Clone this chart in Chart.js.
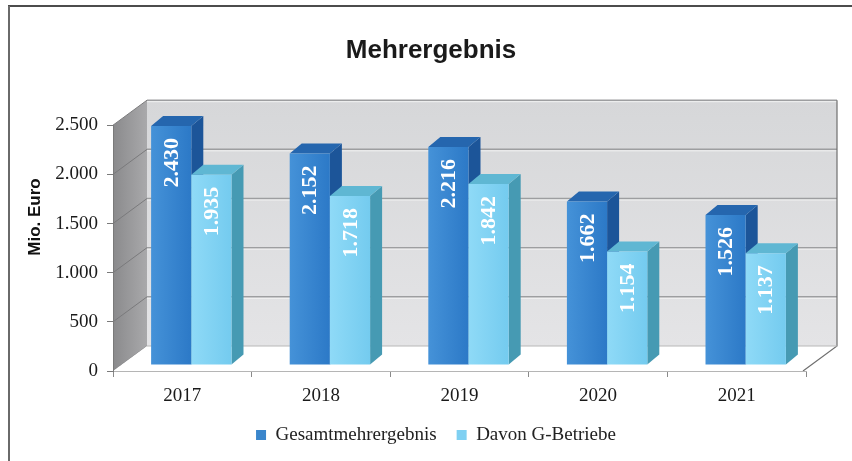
<!DOCTYPE html>
<html>
<head>
<meta charset="utf-8">
<script src="https://cdn.jsdelivr.net/npm/chart.js@4.4.1/dist/chart.umd.min.js"></script>
<style>
  html, body { margin: 0; padding: 0; background: #fff; }
  #wrap { width: 852px; height: 461px; }
</style>
</head>
<body>
<div id="wrap"><canvas id="grafik" width="852" height="461"></canvas></div>
<script>
// Daten
const jahre = ['2017', '2018', '2019', '2020', '2021'];
const gesamt = [2430, 2152, 2216, 1662, 1526];
const gBetriebe = [1935, 1718, 1842, 1154, 1137];
const serienNamen = ['Gesamtmehrergebnis', 'Davon G-Betriebe'];
const yTicks = [0, 500, 1000, 1500, 2000, 2500];

// Tausenderpunkt wie im Original
const fmt = n => String(n).replace(/\B(?=(\d{3})+(?!\d))/g, '.');

const TIEFE = { x: 34, y: -25 };            // Rückwand
const SAEULE = { x: 9, y: -6, dx: 12, dy: -10 }; // Versatz + Tiefe der Säulen

const farben = [
  { links: '#4592d8', rechts: '#2c79c7', deckel: '#2566ae', seite: '#1c5599', legende: '#3a86cc' },
  { links: '#8fdaf7', rechts: '#74cbef', deckel: '#5fb7d3', seite: '#469ab3', legende: '#7fd0f2' }
];

function poly(ctx, pts, fill, stroke, lw) {
  ctx.beginPath();
  ctx.moveTo(pts[0][0], pts[0][1]);
  for (let i = 1; i < pts.length; i++) ctx.lineTo(pts[i][0], pts[i][1]);
  ctx.closePath();
  if (fill) { ctx.fillStyle = fill; ctx.fill(); }
  if (stroke) { ctx.strokeStyle = stroke; ctx.lineWidth = lw || 1; ctx.stroke(); }
}

const raum3d = {
  id: 'raum3d',
  beforeDraw(chart) {
    const ctx = chart.ctx;
    const { left, right, top, bottom } = chart.chartArea;
    const r = right - 3;
    const dx = TIEFE.x, dy = TIEFE.y;
    ctx.save();

    // Rahmen
    ctx.strokeStyle = '#111';
    ctx.lineWidth = 1.5;
    ctx.beginPath(); ctx.moveTo(8, 6); ctx.lineTo(852, 6); ctx.stroke();
    ctx.strokeStyle = '#6a6a6a';
    ctx.lineWidth = 2;
    ctx.beginPath(); ctx.moveTo(9, 6); ctx.lineTo(9, 461); ctx.stroke();

    // Rückwand
    const gw = ctx.createLinearGradient(0, top + dy, 0, bottom + dy);
    gw.addColorStop(0, '#d6d7d9');
    gw.addColorStop(1, '#e4e4e6');
    poly(ctx, [[left + dx, top + dy], [r + dx, top + dy], [r + dx, bottom + dy], [left + dx, bottom + dy]], gw);

    // Seitenwand
    const gs = ctx.createLinearGradient(left, 0, left + dx, 0);
    gs.addColorStop(0, '#8a8a8c');
    gs.addColorStop(1, '#a9a9ab');
    poly(ctx, [[left, top], [left + dx, top + dy], [left + dx, bottom + dy], [left, bottom]], gs);

    // Gitterlinien
    const ys = chart.scales.y;
    yTicks.forEach(v => {
      const py = ys.getPixelForValue(v);
      if (v > 0) {
        ctx.strokeStyle = '#9d9ea0';
        ctx.lineWidth = 1.5;
        ctx.beginPath(); ctx.moveTo(left + dx, py + dy); ctx.lineTo(r + dx, py + dy); ctx.stroke();
        ctx.strokeStyle = '#f2f2f2';
        ctx.lineWidth = 1;
        ctx.beginPath(); ctx.moveTo(left + dx, py + dy + 1.5); ctx.lineTo(r + dx, py + dy + 1.5); ctx.stroke();
      }
      ctx.strokeStyle = '#7a7a7c';
      ctx.lineWidth = 1;
      ctx.beginPath(); ctx.moveTo(left, py); ctx.lineTo(left + dx, py + dy); ctx.stroke();
    });

    // Boden
    poly(ctx, [[left, bottom], [r, bottom], [r + dx, bottom + dy], [left + dx, bottom + dy]], '#ffffff');
    ctx.strokeStyle = '#6f6f6f';
    ctx.lineWidth = 1.2;
    ctx.beginPath(); ctx.moveTo(r, bottom); ctx.lineTo(r + dx, bottom + dy); ctx.lineTo(r + dx, top + dy); ctx.stroke();
    ctx.strokeStyle = '#b8b8b8';
    ctx.beginPath(); ctx.moveTo(left + dx, bottom + dy); ctx.lineTo(r + dx, bottom + dy); ctx.stroke();
    ctx.restore();
  },
  beforeDatasetsDraw(chart) {
    const ctx = chart.ctx;
    const n = jahre.length;
    ctx.save();
    for (let i = 0; i < n; i++) {
      chart.data.datasets.forEach((ds, d) => {
        const el = chart.getDatasetMeta(d).data[i];
        const p = el.getProps(['x', 'y', 'base', 'width'], true);
        const f = farben[d];
        const L = p.x - p.width / 2 + SAEULE.x;
        const R = p.x + p.width / 2 + SAEULE.x;
        const T = p.y + SAEULE.y;
        const U = p.base + SAEULE.y;
        const ex = SAEULE.dx, ey = SAEULE.dy;
        poly(ctx, [[R, T], [R + ex, T + ey], [R + ex, U + ey], [R, U]], f.seite);
        poly(ctx, [[L, T], [R, T], [R + ex, T + ey], [L + ex, T + ey]], f.deckel);
        const g = ctx.createLinearGradient(L, 0, R, 0);
        g.addColorStop(0, f.links);
        g.addColorStop(1, f.rechts);
        poly(ctx, [[L, T], [R, T], [R, U], [L, U]], g);

        // Wert in der Säule
        ctx.save();
        ctx.translate((L + R) / 2, T + 12);
        ctx.rotate(-Math.PI / 2);
        ctx.fillStyle = '#ffffff';
        ctx.font = 'bold 22px "Liberation Serif", "Times New Roman", serif';
        ctx.textAlign = 'right';
        ctx.textBaseline = 'middle';
        ctx.fillText(fmt(ds.data[i]), 0, 1);
        ctx.restore();
      });
    }
    ctx.restore();
    return false;
  },
  afterLayout(chart) {
    const lg = chart.legend;
    lg.left += 27; lg.right += 27;
    lg.top -= 6.5; lg.bottom -= 6.5;
    const tb = chart.titleBlock;
    tb.left += 22; tb.right += 22;
  },
  afterDraw(chart) {
    const ctx = chart.ctx;
    ctx.save();
    ctx.translate(35, 217);
    ctx.rotate(-Math.PI / 2);
    ctx.fillStyle = '#111';
    ctx.font = 'bold 17px "Liberation Sans", Arial, sans-serif';
    ctx.textAlign = 'center';
    ctx.textBaseline = 'middle';
    ctx.fillText('Mio. Euro', 0, 0);
    ctx.restore();
  }
};

const serif = '"Liberation Serif", "Times New Roman", serif';

new Chart(document.getElementById('grafik'), {
  type: 'bar',
  data: {
    labels: jahre,
    datasets: [
      { label: serienNamen[0], data: gesamt, backgroundColor: farben[0].legende, borderWidth: 0 },
      { label: serienNamen[1], data: gBetriebe, backgroundColor: farben[1].legende, borderWidth: 0 }
    ]
  },
  options: {
    responsive: false,
    animation: false,
    devicePixelRatio: 1,
    categoryPercentage: 0.58,
    barPercentage: 1,
    layout: { padding: { left: 12, right: 46, top: 0, bottom: 0 } },
    plugins: {
      title: {
        display: true,
        text: 'Mehrergebnis',
        color: '#1a1a1a',
        font: { family: '"Liberation Sans", Arial, sans-serif', size: 26, weight: 'bold' },
        padding: { top: 35, bottom: 59 }
      },
      legend: {
        position: 'bottom',
        labels: {
          boxWidth: 10,
          boxHeight: 10,
          padding: 20,
          color: '#222',
          font: { family: serif, size: 19 }
        }
      },
      tooltip: { enabled: false }
    },
    scales: {
      x: {
        grid: { display: true, drawOnChartArea: false, tickLength: 6, color: '#8a8a8a', offset: true },
        border: { display: true, color: '#b5b5b5' },
        ticks: { color: '#1a1a1a', padding: 8, font: { family: serif, size: 19 } },
        afterFit: s => { s.height = 41; }
      },
      y: {
        min: 0,
        max: 2500,
        afterBuildTicks: s => { s.ticks = yTicks.map(v => ({ value: v })); },
        grid: { display: true, drawOnChartArea: false, tickLength: 6, color: '#7a7a7a' },
        border: { display: true, color: '#7a7a7a' },
        ticks: { color: '#1a1a1a', padding: 9, font: { family: serif, size: 19 }, callback: v => fmt(v) },
        afterFit: s => { s.width = 101; }
      }
    }
  },
  plugins: [raum3d]
});
</script>
</body>
</html>
